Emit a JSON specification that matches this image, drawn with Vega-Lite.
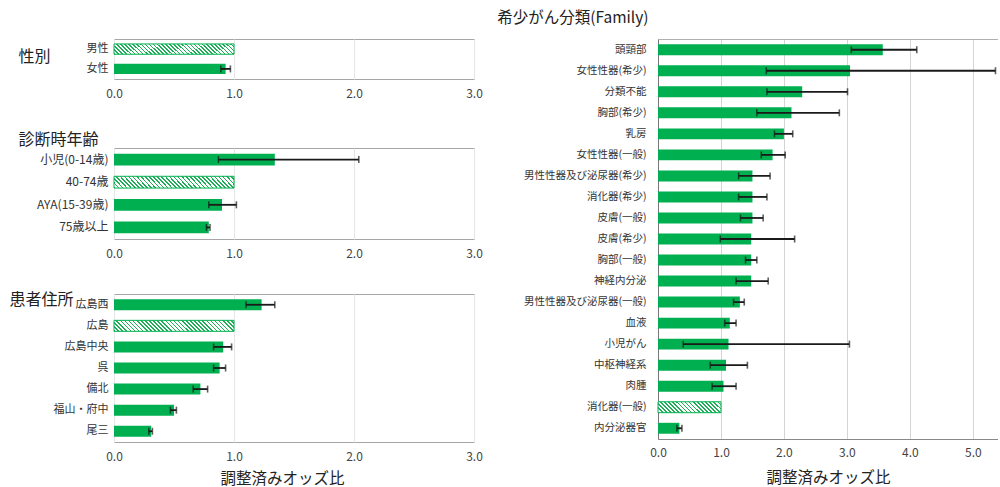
{
"$schema": "https://vega.github.io/schema/vega-lite/v6.json",
"padding": {"left": 8, "top": 10, "right": 0, "bottom": 0},
"background": "white",
"datasets": {
"sex": [
{"label": "男性", "or": 1, "lo": null, "hi": null, "ref": 1},
{"label": "女性", "or": 0.93, "lo": 0.89, "hi": 0.97, "ref": 0}
],
"age": [
{"label": "小児(0-14歳)", "or": 1.34, "lo": 0.87, "hi": 2.04, "ref": 0},
{"label": "40-74歳", "or": 1, "lo": null, "hi": null, "ref": 1},
{"label": "AYA(15-39歳)", "or": 0.9, "lo": 0.79, "hi": 1.02, "ref": 0},
{"label": "75歳以上", "or": 0.79, "lo": 0.77, "hi": 0.8, "ref": 0}
],
"area": [
{"label": "広島西", "or": 1.23, "lo": 1.1, "hi": 1.34, "ref": 0},
{"label": "広島", "or": 1, "lo": null, "hi": null, "ref": 1},
{"label": "広島中央", "or": 0.91, "lo": 0.83, "hi": 0.98, "ref": 0},
{"label": "呉", "or": 0.88, "lo": 0.83, "hi": 0.93, "ref": 0},
{"label": "備北", "or": 0.72, "lo": 0.66, "hi": 0.78, "ref": 0},
{"label": "福山・府中", "or": 0.5, "lo": 0.47, "hi": 0.52, "ref": 0},
{"label": "尾三", "or": 0.31, "lo": 0.29, "hi": 0.32, "ref": 0}
],
"family": [
{"label": "頭頸部", "or": 3.57, "lo": 3.07, "hi": 4.11, "ref": 0},
{"label": "女性性器(希少)", "or": 3.05, "lo": 1.72, "hi": 5.36, "ref": 0},
{"label": "分類不能", "or": 2.29, "lo": 1.73, "hi": 3.01, "ref": 0},
{"label": "胸部(希少)", "or": 2.12, "lo": 1.57, "hi": 2.88, "ref": 0},
{"label": "乳房", "or": 2.0, "lo": 1.85, "hi": 2.14, "ref": 0},
{"label": "女性性器(一般)", "or": 1.82, "lo": 1.64, "hi": 2.02, "ref": 0},
{"label": "男性性器及び泌尿器(希少)", "or": 1.5, "lo": 1.28, "hi": 1.78, "ref": 0},
{"label": "消化器(希少)", "or": 1.5, "lo": 1.28, "hi": 1.73, "ref": 0},
{"label": "皮膚(一般)", "or": 1.5, "lo": 1.31, "hi": 1.67, "ref": 0},
{"label": "皮膚(希少)", "or": 1.48, "lo": 0.99, "hi": 2.17, "ref": 0},
{"label": "胸部(一般)", "or": 1.48, "lo": 1.39, "hi": 1.57, "ref": 0},
{"label": "神経内分泌", "or": 1.48, "lo": 1.24, "hi": 1.75, "ref": 0},
{"label": "男性性器及び泌尿器(一般)", "or": 1.3, "lo": 1.2, "hi": 1.37, "ref": 0},
{"label": "血液", "or": 1.14, "lo": 1.06, "hi": 1.24, "ref": 0},
{"label": "小児がん", "or": 1.12, "lo": 0.4, "hi": 3.04, "ref": 0},
{"label": "中枢神経系", "or": 1.08, "lo": 0.83, "hi": 1.42, "ref": 0},
{"label": "肉腫", "or": 1.04, "lo": 0.86, "hi": 1.24, "ref": 0},
{"label": "消化器(一般)", "or": 1, "lo": null, "hi": null, "ref": 1},
{"label": "内分泌器官", "or": 0.34, "lo": 0.3, "hi": 0.38, "ref": 0}
]
},
"hconcat": [
{
"vconcat": [
{
"width": 360, "height": 40,
"data": {"name": "sex"},
"layer": [
{"transform": [{"filter": "datum.ref == 0"}],
 "mark": {"type": "bar", "color": "#00B050"},
 "encoding": {
  "x": {"field": "or", "type": "quantitative", "scale": {"domain": [0, 3], "nice": false},
        "axis": {"values": [0, 1, 2, 3], "format": ".1f", "title": null, "grid": true, "gridColor": "#e6e6e6", "domain": false, "ticks": false, "labelFlush": false, "labelFontSize": 12, "labelPadding": 9, "labelColor": "#444"}},
  "y": {"field": "label", "type": "nominal", "scale": {"domain": ["男性", "女性"], "paddingInner": 0.48, "paddingOuter": 0.25},
        "axis": {"title": "性別", "titleAngle": 0, "titleX": -96, "titleY": 17, "titleAlign": "left", "titleBaseline": "middle", "titleFontSize": 16, "titleFontWeight": "normal", "titleColor": "#222", "labelFontSize": 11, "labelColor": "#333", "labelPadding": 6, "domain": false, "ticks": false}}
 }},
{"transform": [{"filter": "datum.ref == 1"}],
 "mark": {"type": "bar", "stroke": "#00B050", "strokeWidth": 1,
  "fill": {"gradient": "linear", "x1": 0, "y1": 1, "x2": 1.0826, "y2": 0.9008, "stops": [
{"offset":0,"color":"#1fae57"},{"offset":0.0125,"color":"#1fae57"},{"offset":0.0125,"color":"#ffffff"},{"offset":0.03125,"color":"#ffffff"},
{"offset":0.03125,"color":"#1fae57"},{"offset":0.04375,"color":"#1fae57"},{"offset":0.04375,"color":"#ffffff"},{"offset":0.0625,"color":"#ffffff"},
{"offset":0.0625,"color":"#1fae57"},{"offset":0.075,"color":"#1fae57"},{"offset":0.075,"color":"#ffffff"},{"offset":0.09375,"color":"#ffffff"},
{"offset":0.09375,"color":"#1fae57"},{"offset":0.10625,"color":"#1fae57"},{"offset":0.10625,"color":"#ffffff"},{"offset":0.125,"color":"#ffffff"},
{"offset":0.125,"color":"#1fae57"},{"offset":0.1375,"color":"#1fae57"},{"offset":0.1375,"color":"#ffffff"},{"offset":0.15625,"color":"#ffffff"},
{"offset":0.15625,"color":"#1fae57"},{"offset":0.16875,"color":"#1fae57"},{"offset":0.16875,"color":"#ffffff"},{"offset":0.1875,"color":"#ffffff"},
{"offset":0.1875,"color":"#1fae57"},{"offset":0.2,"color":"#1fae57"},{"offset":0.2,"color":"#ffffff"},{"offset":0.21875,"color":"#ffffff"},
{"offset":0.21875,"color":"#1fae57"},{"offset":0.23125,"color":"#1fae57"},{"offset":0.23125,"color":"#ffffff"},{"offset":0.25,"color":"#ffffff"},
{"offset":0.25,"color":"#1fae57"},{"offset":0.2625,"color":"#1fae57"},{"offset":0.2625,"color":"#ffffff"},{"offset":0.28125,"color":"#ffffff"},
{"offset":0.28125,"color":"#1fae57"},{"offset":0.29375,"color":"#1fae57"},{"offset":0.29375,"color":"#ffffff"},{"offset":0.3125,"color":"#ffffff"},
{"offset":0.3125,"color":"#1fae57"},{"offset":0.325,"color":"#1fae57"},{"offset":0.325,"color":"#ffffff"},{"offset":0.34375,"color":"#ffffff"},
{"offset":0.34375,"color":"#1fae57"},{"offset":0.35625,"color":"#1fae57"},{"offset":0.35625,"color":"#ffffff"},{"offset":0.375,"color":"#ffffff"},
{"offset":0.375,"color":"#1fae57"},{"offset":0.3875,"color":"#1fae57"},{"offset":0.3875,"color":"#ffffff"},{"offset":0.40625,"color":"#ffffff"},
{"offset":0.40625,"color":"#1fae57"},{"offset":0.41875,"color":"#1fae57"},{"offset":0.41875,"color":"#ffffff"},{"offset":0.4375,"color":"#ffffff"},
{"offset":0.4375,"color":"#1fae57"},{"offset":0.45,"color":"#1fae57"},{"offset":0.45,"color":"#ffffff"},{"offset":0.46875,"color":"#ffffff"},
{"offset":0.46875,"color":"#1fae57"},{"offset":0.48125,"color":"#1fae57"},{"offset":0.48125,"color":"#ffffff"},{"offset":0.5,"color":"#ffffff"},
{"offset":0.5,"color":"#1fae57"},{"offset":0.5125,"color":"#1fae57"},{"offset":0.5125,"color":"#ffffff"},{"offset":0.53125,"color":"#ffffff"},
{"offset":0.53125,"color":"#1fae57"},{"offset":0.54375,"color":"#1fae57"},{"offset":0.54375,"color":"#ffffff"},{"offset":0.5625,"color":"#ffffff"},
{"offset":0.5625,"color":"#1fae57"},{"offset":0.575,"color":"#1fae57"},{"offset":0.575,"color":"#ffffff"},{"offset":0.59375,"color":"#ffffff"},
{"offset":0.59375,"color":"#1fae57"},{"offset":0.60625,"color":"#1fae57"},{"offset":0.60625,"color":"#ffffff"},{"offset":0.625,"color":"#ffffff"},
{"offset":0.625,"color":"#1fae57"},{"offset":0.6375,"color":"#1fae57"},{"offset":0.6375,"color":"#ffffff"},{"offset":0.65625,"color":"#ffffff"},
{"offset":0.65625,"color":"#1fae57"},{"offset":0.66875,"color":"#1fae57"},{"offset":0.66875,"color":"#ffffff"},{"offset":0.6875,"color":"#ffffff"},
{"offset":0.6875,"color":"#1fae57"},{"offset":0.7,"color":"#1fae57"},{"offset":0.7,"color":"#ffffff"},{"offset":0.71875,"color":"#ffffff"},
{"offset":0.71875,"color":"#1fae57"},{"offset":0.73125,"color":"#1fae57"},{"offset":0.73125,"color":"#ffffff"},{"offset":0.75,"color":"#ffffff"},
{"offset":0.75,"color":"#1fae57"},{"offset":0.7625,"color":"#1fae57"},{"offset":0.7625,"color":"#ffffff"},{"offset":0.78125,"color":"#ffffff"},
{"offset":0.78125,"color":"#1fae57"},{"offset":0.79375,"color":"#1fae57"},{"offset":0.79375,"color":"#ffffff"},{"offset":0.8125,"color":"#ffffff"},
{"offset":0.8125,"color":"#1fae57"},{"offset":0.825,"color":"#1fae57"},{"offset":0.825,"color":"#ffffff"},{"offset":0.84375,"color":"#ffffff"},
{"offset":0.84375,"color":"#1fae57"},{"offset":0.85625,"color":"#1fae57"},{"offset":0.85625,"color":"#ffffff"},{"offset":0.875,"color":"#ffffff"},
{"offset":0.875,"color":"#1fae57"},{"offset":0.8875,"color":"#1fae57"},{"offset":0.8875,"color":"#ffffff"},{"offset":0.90625,"color":"#ffffff"},
{"offset":0.90625,"color":"#1fae57"},{"offset":0.91875,"color":"#1fae57"},{"offset":0.91875,"color":"#ffffff"},{"offset":0.9375,"color":"#ffffff"},
{"offset":0.9375,"color":"#1fae57"},{"offset":0.95,"color":"#1fae57"},{"offset":0.95,"color":"#ffffff"},{"offset":0.96875,"color":"#ffffff"},
{"offset":0.96875,"color":"#1fae57"},{"offset":0.98125,"color":"#1fae57"},{"offset":0.98125,"color":"#ffffff"},{"offset":1,"color":"#ffffff"}
  ]}},
 "encoding": {
  "x": {"field": "or", "type": "quantitative", "axis": {"orient": "top", "offset": 5, "labels": false, "ticks": false, "grid": false, "domain": true, "domainColor": "transparent", "title": null}},
  "y": {"field": "label", "type": "nominal"}
 }},
{"transform": [{"filter": "datum.ref == 0"}],
 "mark": {"type": "rule", "color": "#1a1a1a", "strokeWidth": 1.8},
 "encoding": {"x": {"field": "lo", "type": "quantitative", "axis": null}, "x2": {"field": "hi"}, "y": {"field": "label", "type": "nominal"}}},
{"transform": [{"filter": "datum.ref == 0"}],
 "mark": {"type": "tick", "color": "#1a1a1a", "size": 7, "thickness": 1.6},
 "encoding": {"x": {"field": "lo", "type": "quantitative", "axis": null}, "y": {"field": "label", "type": "nominal"}}},
{"transform": [{"filter": "datum.ref == 0"}],
 "mark": {"type": "tick", "color": "#1a1a1a", "size": 7, "thickness": 1.6},
 "encoding": {"x": {"field": "hi", "type": "quantitative", "axis": null}, "y": {"field": "label", "type": "nominal"}}}
],
"resolve": {"axis": {"x": "independent"}}
},
{
"width": 360, "height": 91,
"data": {"name": "age"},
"layer": [
{"transform": [{"filter": "datum.ref == 0"}],
 "mark": {"type": "bar", "color": "#00B050"},
 "encoding": {
  "x": {"field": "or", "type": "quantitative", "scale": {"domain": [0, 3], "nice": false},
        "axis": {"values": [0, 1, 2, 3], "format": ".1f", "title": null, "grid": true, "gridColor": "#e6e6e6", "domain": false, "ticks": false, "labelFlush": false, "labelFontSize": 12, "labelPadding": 9, "labelColor": "#444"}},
  "y": {"field": "label", "type": "nominal", "scale": {"domain": ["小児(0-14歳)", "40-74歳", "AYA(15-39歳)", "75歳以上"], "paddingInner": 0.48, "paddingOuter": 0.25},
        "axis": {"title": "診断時年齢", "titleAngle": 0, "titleX": -96, "titleY": -9, "titleAlign": "left", "titleBaseline": "middle", "titleFontSize": 16, "titleFontWeight": "normal", "titleColor": "#222", "labelFontSize": 12, "labelColor": "#333", "labelPadding": 6, "domain": false, "ticks": false}}
 }},
{"transform": [{"filter": "datum.ref == 1"}],
 "mark": {"type": "bar", "stroke": "#00B050", "strokeWidth": 1,
  "fill": {"gradient": "linear", "x1": 0, "y1": 1, "x2": 1.0826, "y2": 0.9008, "stops": [
{"offset":0,"color":"#1fae57"},{"offset":0.0125,"color":"#1fae57"},{"offset":0.0125,"color":"#ffffff"},{"offset":0.03125,"color":"#ffffff"},
{"offset":0.03125,"color":"#1fae57"},{"offset":0.04375,"color":"#1fae57"},{"offset":0.04375,"color":"#ffffff"},{"offset":0.0625,"color":"#ffffff"},
{"offset":0.0625,"color":"#1fae57"},{"offset":0.075,"color":"#1fae57"},{"offset":0.075,"color":"#ffffff"},{"offset":0.09375,"color":"#ffffff"},
{"offset":0.09375,"color":"#1fae57"},{"offset":0.10625,"color":"#1fae57"},{"offset":0.10625,"color":"#ffffff"},{"offset":0.125,"color":"#ffffff"},
{"offset":0.125,"color":"#1fae57"},{"offset":0.1375,"color":"#1fae57"},{"offset":0.1375,"color":"#ffffff"},{"offset":0.15625,"color":"#ffffff"},
{"offset":0.15625,"color":"#1fae57"},{"offset":0.16875,"color":"#1fae57"},{"offset":0.16875,"color":"#ffffff"},{"offset":0.1875,"color":"#ffffff"},
{"offset":0.1875,"color":"#1fae57"},{"offset":0.2,"color":"#1fae57"},{"offset":0.2,"color":"#ffffff"},{"offset":0.21875,"color":"#ffffff"},
{"offset":0.21875,"color":"#1fae57"},{"offset":0.23125,"color":"#1fae57"},{"offset":0.23125,"color":"#ffffff"},{"offset":0.25,"color":"#ffffff"},
{"offset":0.25,"color":"#1fae57"},{"offset":0.2625,"color":"#1fae57"},{"offset":0.2625,"color":"#ffffff"},{"offset":0.28125,"color":"#ffffff"},
{"offset":0.28125,"color":"#1fae57"},{"offset":0.29375,"color":"#1fae57"},{"offset":0.29375,"color":"#ffffff"},{"offset":0.3125,"color":"#ffffff"},
{"offset":0.3125,"color":"#1fae57"},{"offset":0.325,"color":"#1fae57"},{"offset":0.325,"color":"#ffffff"},{"offset":0.34375,"color":"#ffffff"},
{"offset":0.34375,"color":"#1fae57"},{"offset":0.35625,"color":"#1fae57"},{"offset":0.35625,"color":"#ffffff"},{"offset":0.375,"color":"#ffffff"},
{"offset":0.375,"color":"#1fae57"},{"offset":0.3875,"color":"#1fae57"},{"offset":0.3875,"color":"#ffffff"},{"offset":0.40625,"color":"#ffffff"},
{"offset":0.40625,"color":"#1fae57"},{"offset":0.41875,"color":"#1fae57"},{"offset":0.41875,"color":"#ffffff"},{"offset":0.4375,"color":"#ffffff"},
{"offset":0.4375,"color":"#1fae57"},{"offset":0.45,"color":"#1fae57"},{"offset":0.45,"color":"#ffffff"},{"offset":0.46875,"color":"#ffffff"},
{"offset":0.46875,"color":"#1fae57"},{"offset":0.48125,"color":"#1fae57"},{"offset":0.48125,"color":"#ffffff"},{"offset":0.5,"color":"#ffffff"},
{"offset":0.5,"color":"#1fae57"},{"offset":0.5125,"color":"#1fae57"},{"offset":0.5125,"color":"#ffffff"},{"offset":0.53125,"color":"#ffffff"},
{"offset":0.53125,"color":"#1fae57"},{"offset":0.54375,"color":"#1fae57"},{"offset":0.54375,"color":"#ffffff"},{"offset":0.5625,"color":"#ffffff"},
{"offset":0.5625,"color":"#1fae57"},{"offset":0.575,"color":"#1fae57"},{"offset":0.575,"color":"#ffffff"},{"offset":0.59375,"color":"#ffffff"},
{"offset":0.59375,"color":"#1fae57"},{"offset":0.60625,"color":"#1fae57"},{"offset":0.60625,"color":"#ffffff"},{"offset":0.625,"color":"#ffffff"},
{"offset":0.625,"color":"#1fae57"},{"offset":0.6375,"color":"#1fae57"},{"offset":0.6375,"color":"#ffffff"},{"offset":0.65625,"color":"#ffffff"},
{"offset":0.65625,"color":"#1fae57"},{"offset":0.66875,"color":"#1fae57"},{"offset":0.66875,"color":"#ffffff"},{"offset":0.6875,"color":"#ffffff"},
{"offset":0.6875,"color":"#1fae57"},{"offset":0.7,"color":"#1fae57"},{"offset":0.7,"color":"#ffffff"},{"offset":0.71875,"color":"#ffffff"},
{"offset":0.71875,"color":"#1fae57"},{"offset":0.73125,"color":"#1fae57"},{"offset":0.73125,"color":"#ffffff"},{"offset":0.75,"color":"#ffffff"},
{"offset":0.75,"color":"#1fae57"},{"offset":0.7625,"color":"#1fae57"},{"offset":0.7625,"color":"#ffffff"},{"offset":0.78125,"color":"#ffffff"},
{"offset":0.78125,"color":"#1fae57"},{"offset":0.79375,"color":"#1fae57"},{"offset":0.79375,"color":"#ffffff"},{"offset":0.8125,"color":"#ffffff"},
{"offset":0.8125,"color":"#1fae57"},{"offset":0.825,"color":"#1fae57"},{"offset":0.825,"color":"#ffffff"},{"offset":0.84375,"color":"#ffffff"},
{"offset":0.84375,"color":"#1fae57"},{"offset":0.85625,"color":"#1fae57"},{"offset":0.85625,"color":"#ffffff"},{"offset":0.875,"color":"#ffffff"},
{"offset":0.875,"color":"#1fae57"},{"offset":0.8875,"color":"#1fae57"},{"offset":0.8875,"color":"#ffffff"},{"offset":0.90625,"color":"#ffffff"},
{"offset":0.90625,"color":"#1fae57"},{"offset":0.91875,"color":"#1fae57"},{"offset":0.91875,"color":"#ffffff"},{"offset":0.9375,"color":"#ffffff"},
{"offset":0.9375,"color":"#1fae57"},{"offset":0.95,"color":"#1fae57"},{"offset":0.95,"color":"#ffffff"},{"offset":0.96875,"color":"#ffffff"},
{"offset":0.96875,"color":"#1fae57"},{"offset":0.98125,"color":"#1fae57"},{"offset":0.98125,"color":"#ffffff"},{"offset":1,"color":"#ffffff"}
  ]}},
 "encoding": {
  "x": {"field": "or", "type": "quantitative", "axis": null},
  "y": {"field": "label", "type": "nominal"}
 }},
{"transform": [{"filter": "datum.ref == 0"}],
 "mark": {"type": "rule", "color": "#1a1a1a", "strokeWidth": 1.8},
 "encoding": {"x": {"field": "lo", "type": "quantitative", "axis": null}, "x2": {"field": "hi"}, "y": {"field": "label", "type": "nominal"}}},
{"transform": [{"filter": "datum.ref == 0"}],
 "mark": {"type": "tick", "color": "#1a1a1a", "size": 7, "thickness": 1.6},
 "encoding": {"x": {"field": "lo", "type": "quantitative", "axis": null}, "y": {"field": "label", "type": "nominal"}}},
{"transform": [{"filter": "datum.ref == 0"}],
 "mark": {"type": "tick", "color": "#1a1a1a", "size": 7, "thickness": 1.6},
 "encoding": {"x": {"field": "hi", "type": "quantitative", "axis": null}, "y": {"field": "label", "type": "nominal"}}}
],
"resolve": {"axis": {"x": "independent"}}
},
{
"width": 360, "height": 148,
"data": {"name": "area"},
"layer": [
{"transform": [{"filter": "datum.ref == 0"}],
 "mark": {"type": "bar", "color": "#00B050"},
 "encoding": {
  "x": {"field": "or", "type": "quantitative", "scale": {"domain": [0, 3], "nice": false},
        "axis": {"values": [0, 1, 2, 3], "format": ".1f", "title": "調整済みオッズ比", "titleX": 168, "titleY": 36, "titleBaseline": "middle", "titleFontSize": 15.5, "titleFontWeight": "normal", "titleColor": "#222", "grid": true, "gridColor": "#e6e6e6", "domain": false, "ticks": false, "labelFlush": false, "labelFontSize": 12, "labelPadding": 9, "labelColor": "#444"}},
  "y": {"field": "label", "type": "nominal", "scale": {"domain": ["広島西", "広島", "広島中央", "呉", "備北", "福山・府中", "尾三"], "paddingInner": 0.48, "paddingOuter": 0.25},
        "axis": {"title": "患者住所", "titleAngle": 0, "titleX": -105, "titleY": 5, "titleAlign": "left", "titleBaseline": "middle", "titleFontSize": 16, "titleFontWeight": "normal", "titleColor": "#222", "labelFontSize": 11, "labelColor": "#333", "labelPadding": 6, "domain": false, "ticks": false}}
 }},
{"transform": [{"filter": "datum.ref == 1"}],
 "mark": {"type": "bar", "stroke": "#00B050", "strokeWidth": 1,
  "fill": {"gradient": "linear", "x1": 0, "y1": 1, "x2": 1.0826, "y2": 0.9008, "stops": [
{"offset":0,"color":"#1fae57"},{"offset":0.0125,"color":"#1fae57"},{"offset":0.0125,"color":"#ffffff"},{"offset":0.03125,"color":"#ffffff"},
{"offset":0.03125,"color":"#1fae57"},{"offset":0.04375,"color":"#1fae57"},{"offset":0.04375,"color":"#ffffff"},{"offset":0.0625,"color":"#ffffff"},
{"offset":0.0625,"color":"#1fae57"},{"offset":0.075,"color":"#1fae57"},{"offset":0.075,"color":"#ffffff"},{"offset":0.09375,"color":"#ffffff"},
{"offset":0.09375,"color":"#1fae57"},{"offset":0.10625,"color":"#1fae57"},{"offset":0.10625,"color":"#ffffff"},{"offset":0.125,"color":"#ffffff"},
{"offset":0.125,"color":"#1fae57"},{"offset":0.1375,"color":"#1fae57"},{"offset":0.1375,"color":"#ffffff"},{"offset":0.15625,"color":"#ffffff"},
{"offset":0.15625,"color":"#1fae57"},{"offset":0.16875,"color":"#1fae57"},{"offset":0.16875,"color":"#ffffff"},{"offset":0.1875,"color":"#ffffff"},
{"offset":0.1875,"color":"#1fae57"},{"offset":0.2,"color":"#1fae57"},{"offset":0.2,"color":"#ffffff"},{"offset":0.21875,"color":"#ffffff"},
{"offset":0.21875,"color":"#1fae57"},{"offset":0.23125,"color":"#1fae57"},{"offset":0.23125,"color":"#ffffff"},{"offset":0.25,"color":"#ffffff"},
{"offset":0.25,"color":"#1fae57"},{"offset":0.2625,"color":"#1fae57"},{"offset":0.2625,"color":"#ffffff"},{"offset":0.28125,"color":"#ffffff"},
{"offset":0.28125,"color":"#1fae57"},{"offset":0.29375,"color":"#1fae57"},{"offset":0.29375,"color":"#ffffff"},{"offset":0.3125,"color":"#ffffff"},
{"offset":0.3125,"color":"#1fae57"},{"offset":0.325,"color":"#1fae57"},{"offset":0.325,"color":"#ffffff"},{"offset":0.34375,"color":"#ffffff"},
{"offset":0.34375,"color":"#1fae57"},{"offset":0.35625,"color":"#1fae57"},{"offset":0.35625,"color":"#ffffff"},{"offset":0.375,"color":"#ffffff"},
{"offset":0.375,"color":"#1fae57"},{"offset":0.3875,"color":"#1fae57"},{"offset":0.3875,"color":"#ffffff"},{"offset":0.40625,"color":"#ffffff"},
{"offset":0.40625,"color":"#1fae57"},{"offset":0.41875,"color":"#1fae57"},{"offset":0.41875,"color":"#ffffff"},{"offset":0.4375,"color":"#ffffff"},
{"offset":0.4375,"color":"#1fae57"},{"offset":0.45,"color":"#1fae57"},{"offset":0.45,"color":"#ffffff"},{"offset":0.46875,"color":"#ffffff"},
{"offset":0.46875,"color":"#1fae57"},{"offset":0.48125,"color":"#1fae57"},{"offset":0.48125,"color":"#ffffff"},{"offset":0.5,"color":"#ffffff"},
{"offset":0.5,"color":"#1fae57"},{"offset":0.5125,"color":"#1fae57"},{"offset":0.5125,"color":"#ffffff"},{"offset":0.53125,"color":"#ffffff"},
{"offset":0.53125,"color":"#1fae57"},{"offset":0.54375,"color":"#1fae57"},{"offset":0.54375,"color":"#ffffff"},{"offset":0.5625,"color":"#ffffff"},
{"offset":0.5625,"color":"#1fae57"},{"offset":0.575,"color":"#1fae57"},{"offset":0.575,"color":"#ffffff"},{"offset":0.59375,"color":"#ffffff"},
{"offset":0.59375,"color":"#1fae57"},{"offset":0.60625,"color":"#1fae57"},{"offset":0.60625,"color":"#ffffff"},{"offset":0.625,"color":"#ffffff"},
{"offset":0.625,"color":"#1fae57"},{"offset":0.6375,"color":"#1fae57"},{"offset":0.6375,"color":"#ffffff"},{"offset":0.65625,"color":"#ffffff"},
{"offset":0.65625,"color":"#1fae57"},{"offset":0.66875,"color":"#1fae57"},{"offset":0.66875,"color":"#ffffff"},{"offset":0.6875,"color":"#ffffff"},
{"offset":0.6875,"color":"#1fae57"},{"offset":0.7,"color":"#1fae57"},{"offset":0.7,"color":"#ffffff"},{"offset":0.71875,"color":"#ffffff"},
{"offset":0.71875,"color":"#1fae57"},{"offset":0.73125,"color":"#1fae57"},{"offset":0.73125,"color":"#ffffff"},{"offset":0.75,"color":"#ffffff"},
{"offset":0.75,"color":"#1fae57"},{"offset":0.7625,"color":"#1fae57"},{"offset":0.7625,"color":"#ffffff"},{"offset":0.78125,"color":"#ffffff"},
{"offset":0.78125,"color":"#1fae57"},{"offset":0.79375,"color":"#1fae57"},{"offset":0.79375,"color":"#ffffff"},{"offset":0.8125,"color":"#ffffff"},
{"offset":0.8125,"color":"#1fae57"},{"offset":0.825,"color":"#1fae57"},{"offset":0.825,"color":"#ffffff"},{"offset":0.84375,"color":"#ffffff"},
{"offset":0.84375,"color":"#1fae57"},{"offset":0.85625,"color":"#1fae57"},{"offset":0.85625,"color":"#ffffff"},{"offset":0.875,"color":"#ffffff"},
{"offset":0.875,"color":"#1fae57"},{"offset":0.8875,"color":"#1fae57"},{"offset":0.8875,"color":"#ffffff"},{"offset":0.90625,"color":"#ffffff"},
{"offset":0.90625,"color":"#1fae57"},{"offset":0.91875,"color":"#1fae57"},{"offset":0.91875,"color":"#ffffff"},{"offset":0.9375,"color":"#ffffff"},
{"offset":0.9375,"color":"#1fae57"},{"offset":0.95,"color":"#1fae57"},{"offset":0.95,"color":"#ffffff"},{"offset":0.96875,"color":"#ffffff"},
{"offset":0.96875,"color":"#1fae57"},{"offset":0.98125,"color":"#1fae57"},{"offset":0.98125,"color":"#ffffff"},{"offset":1,"color":"#ffffff"}
  ]}},
 "encoding": {
  "x": {"field": "or", "type": "quantitative", "axis": null},
  "y": {"field": "label", "type": "nominal"}
 }},
{"transform": [{"filter": "datum.ref == 0"}],
 "mark": {"type": "rule", "color": "#1a1a1a", "strokeWidth": 1.8},
 "encoding": {"x": {"field": "lo", "type": "quantitative", "axis": null}, "x2": {"field": "hi"}, "y": {"field": "label", "type": "nominal"}}},
{"transform": [{"filter": "datum.ref == 0"}],
 "mark": {"type": "tick", "color": "#1a1a1a", "size": 7, "thickness": 1.6},
 "encoding": {"x": {"field": "lo", "type": "quantitative", "axis": null}, "y": {"field": "label", "type": "nominal"}}},
{"transform": [{"filter": "datum.ref == 0"}],
 "mark": {"type": "tick", "color": "#1a1a1a", "size": 7, "thickness": 1.6},
 "encoding": {"x": {"field": "hi", "type": "quantitative", "axis": null}, "y": {"field": "label", "type": "nominal"}}}
],
"resolve": {"axis": {"x": "independent"}}
}
],
"spacing": 30
},
{
"width": 340, "height": 400,
"data": {"name": "family"},
"view": {"stroke": null},
"title": {"text": "希少がん分類(Family)", "anchor": "start", "frame": "group", "dx": -160.7, "fontSize": 15.5, "fontWeight": "normal", "color": "#222", "offset": 13},
"layer": [
{"transform": [{"filter": "datum.ref == 0"}],
 "mark": {"type": "bar", "color": "#00B050"},
 "encoding": {
  "x": {"field": "or", "type": "quantitative", "scale": {"domain": [0, 5.4], "nice": false},
        "axis": {"values": [0, 1, 2, 3, 4, 5], "format": ".1f", "title": "調整済みオッズ比", "titleY": 38, "titleBaseline": "middle", "titleFontSize": 15.5, "titleFontWeight": "normal", "titleColor": "#222", "grid": true, "gridColor": "#d4d4d4", "domain": true, "domainColor": "#888", "ticks": false, "labelFlush": false, "labelFontSize": 12, "labelPadding": 8, "labelColor": "#444"}},
  "y": {"field": "label", "type": "nominal", "scale": {"domain": ["頭頸部", "女性性器(希少)", "分類不能", "胸部(希少)", "乳房", "女性性器(一般)", "男性性器及び泌尿器(希少)", "消化器(希少)", "皮膚(一般)", "皮膚(希少)", "胸部(一般)", "神経内分泌", "男性性器及び泌尿器(一般)", "血液", "小児がん", "中枢神経系", "肉腫", "消化器(一般)", "内分泌器官"], "paddingInner": 0.48, "paddingOuter": 0.25},
        "axis": {"title": null, "labelFontSize": 10.5, "labelColor": "#333", "labelPadding": 12, "domain": true, "domainColor": "#777", "ticks": false}}
 }},
{"transform": [{"filter": "datum.ref == 1"}],
 "mark": {"type": "bar", "stroke": "#00B050", "strokeWidth": 1,
  "fill": {"gradient": "linear", "x1": 0, "y1": 1, "x2": 1.1399, "y2": 0.801, "stops": [
{"offset":0,"color":"#1fae57"},{"offset":0.0222,"color":"#1fae57"},{"offset":0.0222,"color":"#ffffff"},{"offset":0.0556,"color":"#ffffff"},
{"offset":0.0556,"color":"#1fae57"},{"offset":0.0778,"color":"#1fae57"},{"offset":0.0778,"color":"#ffffff"},{"offset":0.1111,"color":"#ffffff"},
{"offset":0.1111,"color":"#1fae57"},{"offset":0.1333,"color":"#1fae57"},{"offset":0.1333,"color":"#ffffff"},{"offset":0.1667,"color":"#ffffff"},
{"offset":0.1667,"color":"#1fae57"},{"offset":0.1889,"color":"#1fae57"},{"offset":0.1889,"color":"#ffffff"},{"offset":0.2222,"color":"#ffffff"},
{"offset":0.2222,"color":"#1fae57"},{"offset":0.2444,"color":"#1fae57"},{"offset":0.2444,"color":"#ffffff"},{"offset":0.2778,"color":"#ffffff"},
{"offset":0.2778,"color":"#1fae57"},{"offset":0.3,"color":"#1fae57"},{"offset":0.3,"color":"#ffffff"},{"offset":0.3333,"color":"#ffffff"},
{"offset":0.3333,"color":"#1fae57"},{"offset":0.3556,"color":"#1fae57"},{"offset":0.3556,"color":"#ffffff"},{"offset":0.3889,"color":"#ffffff"},
{"offset":0.3889,"color":"#1fae57"},{"offset":0.4111,"color":"#1fae57"},{"offset":0.4111,"color":"#ffffff"},{"offset":0.4444,"color":"#ffffff"},
{"offset":0.4444,"color":"#1fae57"},{"offset":0.4667,"color":"#1fae57"},{"offset":0.4667,"color":"#ffffff"},{"offset":0.5,"color":"#ffffff"},
{"offset":0.5,"color":"#1fae57"},{"offset":0.5222,"color":"#1fae57"},{"offset":0.5222,"color":"#ffffff"},{"offset":0.5556,"color":"#ffffff"},
{"offset":0.5556,"color":"#1fae57"},{"offset":0.5778,"color":"#1fae57"},{"offset":0.5778,"color":"#ffffff"},{"offset":0.6111,"color":"#ffffff"},
{"offset":0.6111,"color":"#1fae57"},{"offset":0.6333,"color":"#1fae57"},{"offset":0.6333,"color":"#ffffff"},{"offset":0.6667,"color":"#ffffff"},
{"offset":0.6667,"color":"#1fae57"},{"offset":0.6889,"color":"#1fae57"},{"offset":0.6889,"color":"#ffffff"},{"offset":0.7222,"color":"#ffffff"},
{"offset":0.7222,"color":"#1fae57"},{"offset":0.7444,"color":"#1fae57"},{"offset":0.7444,"color":"#ffffff"},{"offset":0.7778,"color":"#ffffff"},
{"offset":0.7778,"color":"#1fae57"},{"offset":0.8,"color":"#1fae57"},{"offset":0.8,"color":"#ffffff"},{"offset":0.8333,"color":"#ffffff"},
{"offset":0.8333,"color":"#1fae57"},{"offset":0.8556,"color":"#1fae57"},{"offset":0.8556,"color":"#ffffff"},{"offset":0.8889,"color":"#ffffff"},
{"offset":0.8889,"color":"#1fae57"},{"offset":0.9111,"color":"#1fae57"},{"offset":0.9111,"color":"#ffffff"},{"offset":0.9444,"color":"#ffffff"},
{"offset":0.9444,"color":"#1fae57"},{"offset":0.9667,"color":"#1fae57"},{"offset":0.9667,"color":"#ffffff"},{"offset":1,"color":"#ffffff"}
  ]}},
 "encoding": {
  "x": {"field": "or", "type": "quantitative", "axis": {"orient": "top", "labels": false, "ticks": false, "grid": false, "domain": true, "domainColor": "#b0b0b0", "title": null}},
  "y": {"field": "label", "type": "nominal"}
 }},
{"transform": [{"filter": "datum.ref == 0"}],
 "mark": {"type": "rule", "color": "#1a1a1a", "strokeWidth": 1.8},
 "encoding": {"x": {"field": "lo", "type": "quantitative", "axis": null}, "x2": {"field": "hi"}, "y": {"field": "label", "type": "nominal"}}},
{"transform": [{"filter": "datum.ref == 0"}],
 "mark": {"type": "tick", "color": "#1a1a1a", "size": 7, "thickness": 1.6},
 "encoding": {"x": {"field": "lo", "type": "quantitative", "axis": null}, "y": {"field": "label", "type": "nominal"}}},
{"transform": [{"filter": "datum.ref == 0"}],
 "mark": {"type": "tick", "color": "#1a1a1a", "size": 7, "thickness": 1.6},
 "encoding": {"x": {"field": "hi", "type": "quantitative", "axis": null}, "y": {"field": "label", "type": "nominal"}}}
],
"resolve": {"axis": {"x": "independent"}}
}
],
"spacing": 14,
"config": {
 "font": "Noto Sans CJK JP",
 "view": {"stroke": "#a6a6a6"},
 "axis": {"ticks": false}
}
}
